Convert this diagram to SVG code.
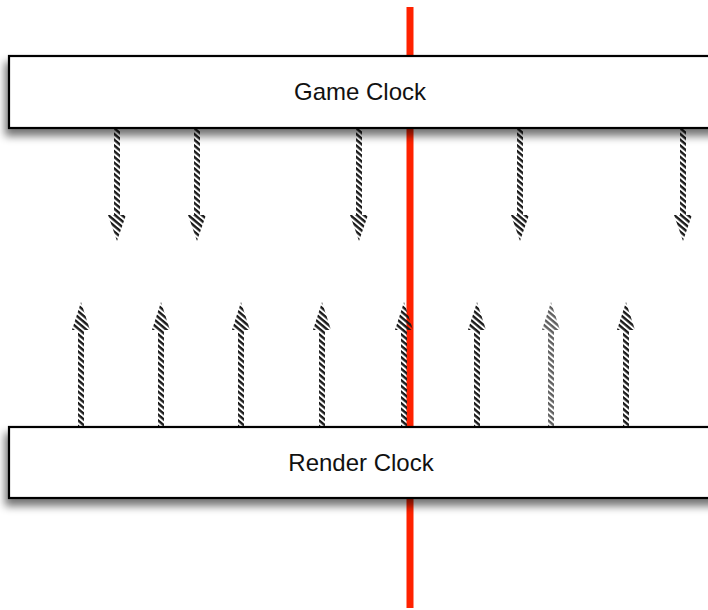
<svg xmlns="http://www.w3.org/2000/svg" width="708" height="610" viewBox="0 0 708 610">
<defs>
<pattern id="hatch" patternUnits="userSpaceOnUse" width="4.4" height="4.4" patternTransform="rotate(40)">
<rect x="0" y="0" width="4.4" height="2.4" fill="#1a1a1a"/>
</pattern>
<filter id="shadow" x="-5%" y="-20%" width="110%" height="160%">
<feGaussianBlur in="SourceAlpha" stdDeviation="4"/>
<feOffset dx="-3" dy="7" result="b"/>
<feComponentTransfer><feFuncA type="linear" slope="0.55"/></feComponentTransfer>
<feMerge><feMergeNode/><feMergeNode in="SourceGraphic"/></feMerge>
</filter>
<path id="down" d="M-3,0 L3,0 L3,86 L9,86 L0,112 L-9,86 L-3,86 Z"/>
<path id="up" d="M-3,0 L3,0 L3,-97 L9,-97 L0,-125 L-9,-97 L-3,-97 Z"/>
</defs>
<style>
.box{fill:#fff;stroke:#000;stroke-width:2.2}
.lbl{font-family:"Liberation Sans",Arial,sans-serif;font-size:24px;fill:#111;text-anchor:middle}
.arr{fill:url(#hatch)}
</style>
<rect width="708" height="610" fill="#fff"/>
<line x1="410" y1="7" x2="410" y2="608" stroke="#ff2200" stroke-width="7"/>
<g id="connectors">
<use href="#down" class="arr" x="117" y="129"/>
<use href="#down" class="arr" x="197" y="129"/>
<use href="#down" class="arr" x="359" y="129"/>
<use href="#down" class="arr" x="520" y="129"/>
<use href="#down" class="arr" x="683" y="129"/>
<use href="#up" class="arr" x="81" y="427"/>
<use href="#up" class="arr" x="161" y="427"/>
<use href="#up" class="arr" x="241" y="427"/>
<use href="#up" class="arr" x="322" y="427"/>
<use href="#up" class="arr" x="404" y="427"/>
<use href="#up" class="arr" x="477" y="427"/>
<use href="#up" class="arr" x="551" y="427" opacity="0.7"/>
<use href="#up" class="arr" x="626" y="427"/>
</g>
<g id="game-clock">
<rect class="box" x="9" y="56" width="720" height="72" filter="url(#shadow)"/>
<text class="lbl" x="360" y="100">Game Clock</text>
</g>
<g id="render-clock">
<rect class="box" x="9" y="427" width="720" height="71" filter="url(#shadow)"/>
<text class="lbl" x="361" y="471">Render Clock</text>
</g>
</svg>
